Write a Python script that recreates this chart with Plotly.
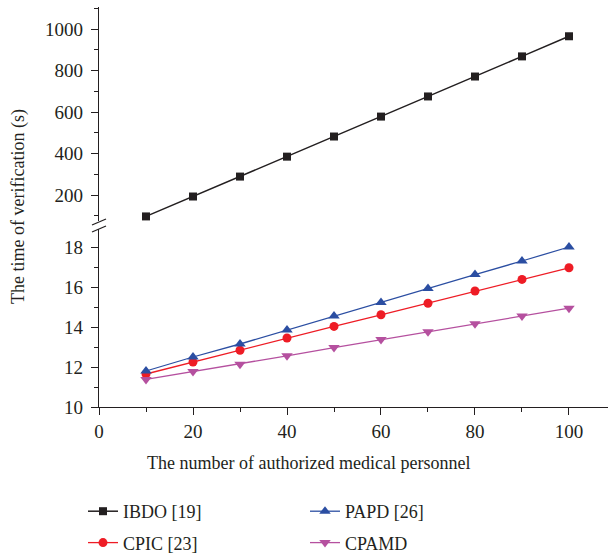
import plotly.graph_objects as go

x_vals = [10, 20, 30, 40, 50, 60, 70, 80, 90, 100]
ibdo = [97, 193, 289, 385, 482, 578, 675, 771, 868, 965]
papd = [11.8, 12.5, 13.15, 13.85, 14.55, 15.22, 15.92, 16.62, 17.3, 18.0]
cpic = [11.65, 12.25, 12.84, 13.45, 14.03, 14.61, 15.19, 15.8, 16.38, 16.96]
cpamd = [11.38, 11.77, 12.14, 12.56, 12.97, 13.37, 13.76, 14.16, 14.55, 14.94]

FONT = "Liberation Serif"
TXT = "#231f20"

fig = go.Figure()
fig.add_trace(go.Scatter(x=x_vals, y=ibdo, name="IBDO [19]", yaxis="y2", mode="lines+markers",
                         legend="legend", legendgroup="a",
                         line=dict(color="#231f20", width=1.5),
                         marker=dict(symbol="square", size=8, color="#231f20")))
fig.add_trace(go.Scatter(x=x_vals, y=cpic, name="CPIC [23]", mode="lines+markers",
                         legend="legend", legendgroup="b",
                         line=dict(color="#ee1c25", width=1.3),
                         marker=dict(symbol="circle", size=9, color="#ee1c25")))
fig.add_trace(go.Scatter(x=x_vals, y=papd, name="PAPD [26]", mode="lines+markers",
                         legend="legend2", legendgroup="c",
                         line=dict(color="#2b4ea2", width=1.3),
                         marker=dict(symbol="triangle-up", size=10, color="#2b4ea2")))
fig.add_trace(go.Scatter(x=x_vals, y=cpamd, name="CPAMD", mode="lines+markers",
                         legend="legend2", legendgroup="d",
                         line=dict(color="#b5509f", width=1.3),
                         marker=dict(symbol="triangle-down", size=10, color="#b5509f")))

W, H = 608, 556
L, R, T, B = 99, 0, 7, 149
PW, PH = W - L - R, H - T - B

def px_x(p):
    return (p - L) / PW

def px_y(p):
    return (T + PH - p) / PH

axis_common = dict(showline=True, linecolor=TXT, linewidth=1.3, ticks="outside",
                   ticklen=7, tickwidth=1.2, tickcolor=TXT, showgrid=False, zeroline=False,
                   automargin=False,
                   tickfont=dict(family=FONT, size=19, color=TXT))

legend_common = dict(orientation="v", xref="container", yref="container",
                     xanchor="left", yanchor="top", itemwidth=30, tracegroupgap=5,
                     bgcolor="rgba(0,0,0,0)",
                     font=dict(family=FONT, size=18, color=TXT))

fig.update_layout(
    width=W, height=H,
    margin=dict(l=L, r=R, t=T, b=B, autoexpand=False),
    paper_bgcolor="white", plot_bgcolor="white",
    font=dict(family=FONT, color=TXT),
    xaxis=dict(range=[0, 108.3], tickvals=[0, 20, 40, 60, 80, 100], anchor="y",
               minor=dict(tickvals=[10, 30, 50, 70, 90], ticklen=4, tickcolor=TXT, ticks="outside"),
               **axis_common),
    yaxis=dict(domain=[0, px_y(229)], range=[10, 18.9], tickvals=[10, 12, 14, 16, 18],
               minor=dict(tickvals=[11, 13, 15, 17], ticklen=4, tickcolor=TXT, ticks="outside"),
               ticklabelstandoff=4, **axis_common),
    yaxis2=dict(domain=[px_y(221), 1], range=[75, 1106], tickvals=[200, 400, 600, 800, 1000],
                minor=dict(tickvals=[100, 300, 500, 700, 900, 1100], ticklen=4, tickcolor=TXT, ticks="outside"),
                anchor="x", ticklabelstandoff=4, **axis_common),
    showlegend=True,
    legend=dict(x=83 / W, y=1 - 493 / H, **legend_common),
    legend2=dict(x=305 / W, y=1 - 493 / H, **legend_common),
)

fig.add_annotation(text="The time of verification (s)", xref="paper", yref="paper",
                   x=px_x(18), y=0.5, textangle=-90, showarrow=False,
                   xanchor="center", yanchor="middle",
                   font=dict(family=FONT, size=18, color=TXT))
fig.add_annotation(text="The number of authorized medical personnel", xref="paper", yref="paper",
                   x=px_x(308), y=px_y(463), showarrow=False,
                   xanchor="center", yanchor="middle",
                   font=dict(family=FONT, size=18, color=TXT))

for y0, y1 in [(225, 219), (232, 226)]:
    fig.add_shape(type="line", xref="paper", yref="paper",
                  x0=px_x(92), x1=px_x(106), y0=px_y(y0), y1=px_y(y1),
                  line=dict(color=TXT, width=1.3))

fig.write_html("out.html", config={"displayModeBar": False},
               post_script="document.body.style.margin='0';document.body.style.overflow='hidden';")
